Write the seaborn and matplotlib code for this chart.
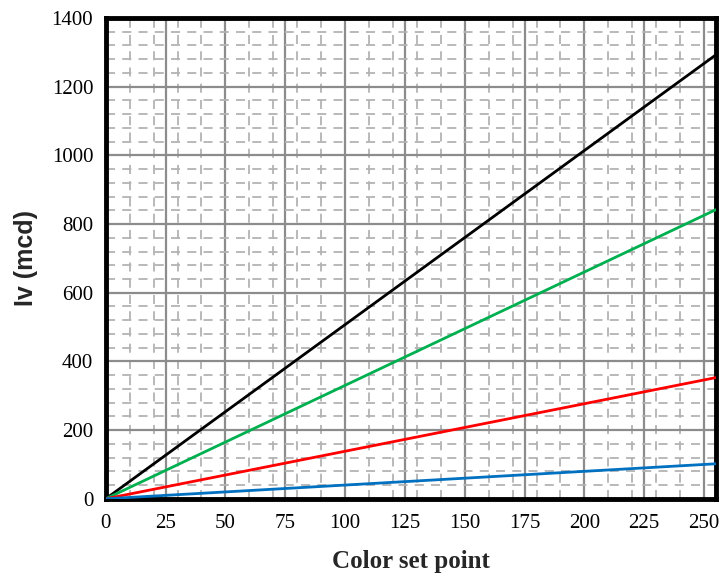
import numpy as np
import pandas as pd
import matplotlib
matplotlib.use("Agg")
import matplotlib.pyplot as plt
import seaborn as sns
from matplotlib.ticker import MultipleLocator

# Data (linear from origin to set point 255)
set_point = [0, 255]
iv_white = [0, 1293]
iv_green = [0, 842]
iv_red = [0, 353]
iv_blue = [0, 102]

series_names = ["White", "Green", "Red", "Blue"]
series_colors = ["#000000", "#00B050", "#FF0000", "#0070C0"]

df = pd.DataFrame({
    "set_point": set_point * 4,
    "iv": iv_white + iv_green + iv_red + iv_blue,
    "series": sum([[n] * len(set_point) for n in series_names], []),
})

sns.set_style("white")
plt.rcParams["font.family"] = ["Liberation Serif", "DejaVu Serif"]

fig, ax = plt.subplots(figsize=(7.24, 5.8), dpi=100)
fig.subplots_adjust(left=0.146, right=0.989, top=0.969, bottom=0.14)

sns.lineplot(data=df, x="set_point", y="iv", hue="series",
             palette=dict(zip(series_names, series_colors)),
             linewidth=2, legend=False, ax=ax, zorder=3)

ax.set_xlim(0, 255)
ax.set_ylim(0, 1400)
ax.xaxis.set_major_locator(MultipleLocator(25))
ax.xaxis.set_minor_locator(MultipleLocator(10))
ax.yaxis.set_major_locator(MultipleLocator(200))
ax.yaxis.set_minor_locator(MultipleLocator(40))

ax.grid(which="minor", color="#b3b3b3", linestyle=(0, (5, 4)), linewidth=1.3, zorder=0)
ax.grid(which="major", color="#8c8c8c", linestyle="-", linewidth=1.6, zorder=1)
ax.set_axisbelow(True)

for s in ax.spines.values():
    s.set_visible(True)
    s.set_color("black")
    s.set_linewidth(3.5)

ax.tick_params(axis="both", which="major", direction="in", length=5, width=1.5,
               colors="black", labelsize=15)
ax.tick_params(axis="x", which="major", pad=11)
ax.tick_params(axis="y", which="major", pad=9)
ax.tick_params(axis="both", which="minor", length=0)

ax.set_xlabel("Color set point", fontsize=18, fontweight="bold", labelpad=12)
ax.set_ylabel("Iv (mcd)", fontsize=18, fontweight="bold",
              family=["Liberation Sans", "DejaVu Sans"], labelpad=10)

fig.savefig("out.png", dpi=100)
